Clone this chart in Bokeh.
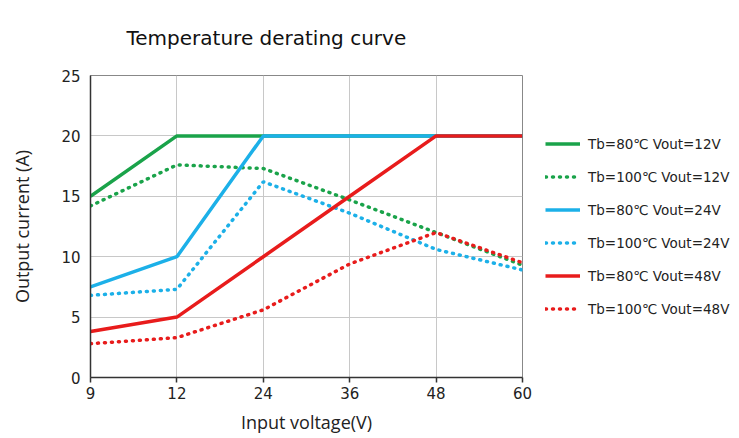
from bokeh.plotting import figure
from bokeh.models import Range1d, FixedTicker, Legend, LegendItem, Title
from bokeh.embed import file_html
from bokeh.resources import INLINE

# ---- data ----
voltages = ["9", "12", "24", "36", "48", "60"]
x_idx = list(range(len(voltages)))

tb80_12 = [15, 20, 20, 20, 20, 20]
tb100_12 = [14.2, 17.6, 17.3, 14.7, 12.0, 9.3]
tb80_24 = [7.5, 10, 20, 20, 20, 20]
tb100_24 = [6.8, 7.3, 16.2, 13.6, 10.6, 8.9]
tb80_48 = [3.8, 5.0, 10, 15, 20, 20]
tb100_48 = [2.8, 3.3, 5.6, 9.4, 12.0, 9.5]

labels = ["Tb=80℃ Vout=12V", "Tb=100℃ Vout=12V",
          "Tb=80℃ Vout=24V", "Tb=100℃ Vout=24V",
          "Tb=80℃ Vout=48V", "Tb=100℃ Vout=48V"]
y_ticks = [0, 5, 10, 15, 20, 25]

GREEN = "#1aa34a"
BLUE = "#1cb0e8"
RED = "#e81c1c"
FONT = "DejaVu Sans"

p = figure(frame_width=432, frame_height=302, output_backend="svg",
           toolbar_location=None,
           x_range=Range1d(0, 5), y_range=Range1d(0, 25),
           min_border_left=90, min_border_right=217, min_border_top=75,
           min_border_bottom=61)

p.title = Title(text="Temperature derating curve", text_font=FONT,
                text_font_size="20px", text_font_style="normal",
                text_color="#111111", offset=36, standoff=48,
                vertical_align="top")

p.outline_line_color = "#888888"
p.outline_line_width = 1

p.xaxis.ticker = FixedTicker(ticks=x_idx)
p.xaxis.major_label_overrides = {i: v for i, v in zip(x_idx, voltages)}
p.yaxis.ticker = FixedTicker(ticks=y_ticks)

for ax in (p.xaxis[0], p.yaxis[0]):
    ax.axis_line_color = "#333333"
    ax.axis_line_width = 1.5
    ax.major_label_text_font = FONT
    ax.major_label_text_font_size = "15px"
    ax.major_label_text_color = "#222222"
    ax.axis_label_text_font = "Open Sans"
    ax.axis_label_text_font_size = "18px"
    ax.axis_label_text_font_style = "normal"
    ax.axis_label_text_color = "#222222"
    ax.minor_tick_line_color = None

p.xaxis.major_tick_out = 5
p.xaxis.major_tick_in = 0
p.xaxis.major_tick_line_color = "#333333"
p.xaxis.major_tick_line_width = 1.5
p.xaxis.major_label_standoff = 4
p.xaxis.axis_label = "Input voltage(V)"
p.xaxis.axis_label_standoff = 8

p.yaxis.major_tick_out = 0
p.yaxis.major_tick_in = 0
p.yaxis.major_label_standoff = 10
p.yaxis.axis_label = "Output current (A)"
p.yaxis.axis_label_standoff = 24

p.grid.grid_line_color = "#c8c8c8"
p.grid.grid_line_width = 1

LW = 3.5
DOT = "1 6"
r1 = p.line(x_idx, tb80_12, line_color=GREEN, line_width=LW)
r2 = p.line(x_idx, tb100_12, line_color=GREEN, line_width=LW, line_dash=DOT, line_cap="round")
r3 = p.line(x_idx, tb80_24, line_color=BLUE, line_width=LW)
r4 = p.line(x_idx, tb100_24, line_color=BLUE, line_width=LW, line_dash=DOT, line_cap="round")
r5 = p.line(x_idx, tb80_48, line_color=RED, line_width=LW)
r6 = p.line(x_idx, tb100_48, line_color=RED, line_width=LW, line_dash=DOT, line_cap="round")

legend = Legend(items=[LegendItem(label=l, renderers=[r]) for l, r in
                       zip(labels, [r1, r2, r3, r4, r5, r6])],
                location="left", orientation="vertical",
                background_fill_alpha=0, border_line_alpha=0,
                padding=0, margin=23, spacing=13,
                glyph_width=35, glyph_height=20, label_height=20,
                label_standoff=8, label_text_font=FONT,
                label_text_font_size="13.5px", label_text_color="#222222")
p.add_layout(legend, "right")

open("out.html", "w").write(file_html(p, INLINE))
